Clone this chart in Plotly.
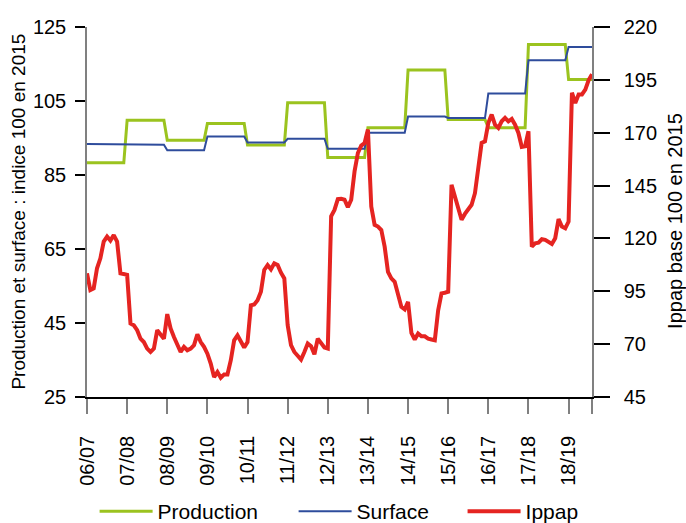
import plotly.graph_objects as go

seasons = ["06/07", "07/08", "08/09", "09/10", "10/11", "11/12", "12/13",
           "13/14", "14/15", "15/16", "16/17", "17/18", "18/19"]

# Annual indices (base 100 in 2015), one value per marketing year
production = [88.3, 99.8, 94.4, 98.9, 93.1, 104.5, 89.7, 97.8, 113.4, 100.0, 97.8, 120.3, 110.8]
surface = [93.4, 93.2, 91.7, 95.4, 93.8, 94.8, 92.1, 96.4, 100.8, 100.4, 107.0, 116.0, 119.6]

# Monthly Ippap (base 100 in 2015)
ippap = [
    103.5, 95.6, 96.4, 105.9, 110.6, 118.5, 120.9, 119.0, 121.6, 118.5, 103.5, 103.3,
    102.8, 79.8, 78.9, 76.6, 72.6, 71.0, 67.9, 66.3, 67.9, 76.6, 74.2, 72.6,
    84.2, 77.4, 73.4, 69.5, 66.3, 68.7, 67.1, 67.9, 69.5, 74.7, 71.0, 68.7,
    65.5, 60.8, 54.4, 56.8, 54.1, 55.7, 55.7, 62.4, 71.8, 74.2, 71.0, 68.4,
    71.0, 88.4, 88.8, 90.8, 94.8, 105.1, 107.4, 105.4, 108.2, 107.4, 103.8, 101.1,
    79.0, 69.5, 66.3, 64.7, 62.7, 66.3, 70.3, 69.0, 65.2, 72.6, 70.3, 68.4,
    67.9, 130.5, 133.5, 138.6, 138.7, 138.3, 134.8, 138.3, 151.7, 160.4, 163.9, 165.1,
    171.5, 135.1, 126.4, 125.6, 124.0, 116.1, 104.2, 101.1, 99.5, 94.0, 87.6, 86.4,
    90.0, 75.3, 72.2, 75.0, 73.7, 73.7, 72.6, 72.2, 71.8, 86.0, 94.0, 94.3,
    94.8, 145.4, 139.8, 134.3, 128.8, 131.6, 133.9, 135.9, 141.4, 152.5, 165.2, 165.9,
    174.6, 178.6, 173.8, 172.3, 175.4, 177.0, 175.4, 176.5, 173.8, 169.9, 163.3, 163.6,
    170.7, 116.1, 117.7, 118.0, 119.6, 119.3, 118.5, 117.4, 120.1, 129.1, 125.6, 124.8,
    128.0, 188.9, 184.1, 188.1, 188.1, 190.4, 194.9, 197.6,
]

left_ticks = [25, 45, 65, 85, 105, 125]
right_ticks = [45, 70, 95, 120, 145, 170, 195, 220]

months = list(range(len(ippap)))
prod_monthly = [production[m // 12] for m in months]
surf_monthly = [surface[m // 12] for m in months]

FONT = "Liberation Sans, Arial, sans-serif"

fig = go.Figure()
fig.add_trace(go.Scatter(x=months, y=prod_monthly, name="Production", mode="lines",
                         line=dict(color="#9BC31F", width=3), legend="legend"))
fig.add_trace(go.Scatter(x=months, y=surf_monthly, name="Surface", mode="lines",
                         line=dict(color="#2E4C9C", width=2), legend="legend2"))
fig.add_trace(go.Scatter(x=months, y=ippap, name="Ippap", mode="lines", yaxis="y2",
                         line=dict(color="#E52421", width=4), legend="legend3"))

xtickvals = [12 * i for i in range(len(seasons))] + [len(ippap) - 1]
xticktext = seasons + [""]


def leg(x):
    return dict(orientation="h", xref="container", yref="container",
                x=x, y=0.022, xanchor="left", yanchor="middle",
                font=dict(size=21, family=FONT), itemwidth=53,
                bgcolor="rgba(0,0,0,0)")


fig.update_layout(
    width=686, height=523,
    margin=dict(l=87, r=94, t=27, b=126, autoexpand=False),
    paper_bgcolor="white", plot_bgcolor="white",
    font=dict(family=FONT, size=20, color="black"),
    showlegend=True,
    legend=leg(0.1379),
    legend2=leg(0.428),
    legend3=leg(0.6743),
    xaxis=dict(range=[0, len(ippap) - 1], tickmode="array", tickvals=xtickvals,
               ticktext=xticktext, tickangle=-90, ticks="outside", ticklen=15,
               tickcolor="#808080", tickwidth=1.5, showline=True, linecolor="black",
               linewidth=1.5, showgrid=False, zeroline=False, ticklabelstandoff=14,
               tickfont=dict(size=20), automargin=False),
    yaxis=dict(range=[25, 125], tickmode="array", tickvals=left_ticks, ticks="outside",
               ticklen=10, tickcolor="black", tickwidth=1.5, showline=True,
               linecolor="#808080", linewidth=1.5, showgrid=False, zeroline=False,
               ticklabelstandoff=5, tickfont=dict(size=20), automargin=False),
    yaxis2=dict(range=[45, 220], tickmode="array", tickvals=right_ticks, ticks="outside",
                ticklen=16, tickcolor="black", tickwidth=1.5, showline=True,
                linecolor="#808080", linewidth=1.5, showgrid=False, zeroline=False,
                overlaying="y", side="right", ticklabelstandoff=10,
                tickfont=dict(size=20), automargin=False),
    annotations=[
        dict(text="Production et surface : indice 100 en 2015", xref="paper", yref="paper",
             x=-0.1347, y=0.501, textangle=-90, showarrow=False,
             font=dict(size=19, family=FONT), xanchor="center", yanchor="middle"),
        dict(text="Ippap base 100 en 2015", xref="paper", yref="paper",
             x=1.1644, y=0.476, textangle=-90, showarrow=False,
             font=dict(size=20, family=FONT), xanchor="center", yanchor="middle"),
    ],
)

fig.write_html("out.html", config={"displayModeBar": False},
               post_script="document.body.style.margin='0';document.body.style.padding='0';")
